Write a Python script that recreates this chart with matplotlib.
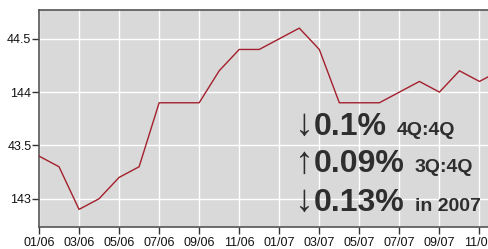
import matplotlib
matplotlib.use("Agg")
import matplotlib.pyplot as plt

months = ["01/06","02/06","03/06","04/06","05/06","06/06","07/06","08/06","09/06","10/06","11/06","12/06",
          "01/07","02/07","03/07","04/07","05/07","06/07","07/07","08/07","09/07","10/07","11/07","12/07"]
values = [143.4,143.3,142.9,143.0,143.2,143.3,143.9,143.9,143.9,144.2,144.4,144.4,
          144.5,144.6,144.4,143.9,143.9,143.9,144.0,144.1,144.0,144.2,144.1,144.2]
y_ticks = [143.0, 143.5, 144.0, 144.5]
y_labels = ["143", "43.5", "144", "44.5"]
stat_arrows = ["\u2193", "\u2191", "\u2193"]
stat_values = ["0.1%", "0.09%", "0.13%"]
stat_labels = ["4Q:4Q", "3Q:4Q", "in 2007"]

plt.rcParams['font.family'] = ['Liberation Sans', 'DejaVu Sans']

fig = plt.figure(figsize=(4.89, 2.49), dpi=100)
fig.patch.set_facecolor("white")
ax = fig.add_axes([39/489, 1-227/249, 1-39/489 + 0.001, (227-10)/249])
ax.set_facecolor("#d9d9d9")

x = list(range(len(months)))
ax.plot(x, values, color="#a3202c", lw=1.0, zorder=3)

ax.set_xlim(0, 22.5)
ax.set_ylim(142.735, 144.77)
ax.set_xticks(x[::2])
ax.set_xticklabels(months[::2], fontsize=9, color="#111111")
ax.set_yticks(y_ticks)
ax.set_yticklabels(y_labels, fontsize=9, color="#111111")
ax.tick_params(axis="x", length=5, width=1, color="#333333", pad=2)
ax.tick_params(axis="y", length=5, width=1, color="#333333", pad=0.5)
ax.grid(True, color="white", lw=1.0, zorder=1)
ax.set_axisbelow(True)

for s in ["top", "left", "bottom"]:
    ax.spines[s].set_color("#555555")
    ax.spines[s].set_linewidth(1.2)
ax.spines["right"].set_visible(False)

rows_y = [134.5, 172.5, 211]
small_x = [397, 415, 415]
for i in range(3):
    fy = 1 - rows_y[i]/249
    fig.text(295/489, fy, stat_arrows[i], fontsize=27, fontweight="bold", color="#2e2e2e",
             ha="left", va="baseline")
    fig.text(314/489, fy, stat_values[i], fontsize=23, fontweight="bold", color="#2e2e2e",
             ha="left", va="baseline")
    fig.text(small_x[i]/489, fy, stat_labels[i], fontsize=14, fontweight="bold", color="#2e2e2e",
             ha="left", va="baseline")

fig.savefig("out.png", dpi=100)
